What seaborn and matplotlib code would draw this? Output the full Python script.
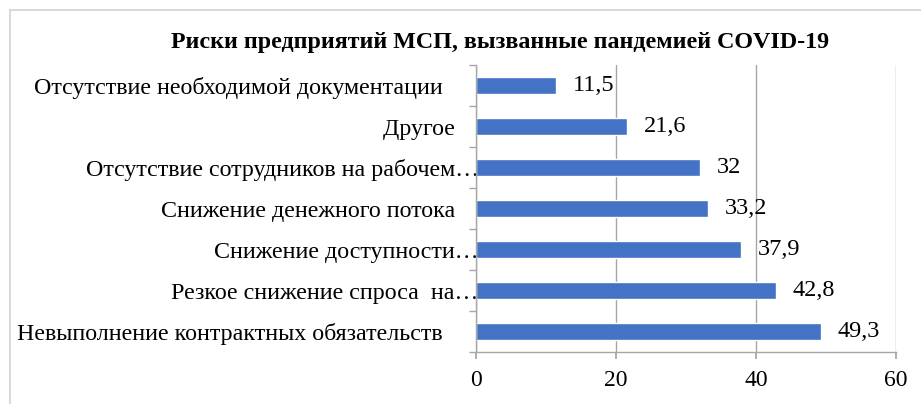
import matplotlib
matplotlib.use("Agg")
import matplotlib.pyplot as plt
import matplotlib.patches as mpatches
import seaborn as sns
import pandas as pd

# chart data (top to bottom as shown); trailing spaces are part of the source labels
categories = [
    "Отсутствие необходимой документации      ",
    "Другое    ",
    "Отсутствие сотрудников на рабочем…",
    "Снижение денежного потока    ",
    "Снижение доступности…",
    "Резкое снижение спроса  на…",
    "Невыполнение контрактных обязательств      ",
]
values = [11.5, 21.6, 32, 33.2, 37.9, 42.8, 49.3]
x_ticks = [0, 20, 40, 60]
title = "Риски предприятий МСП, вызванные пандемией COVID-19"

df = pd.DataFrame({"category": categories, "value": values})

sns.set_theme(style="white")
plt.rcParams["font.family"] = ["Liberation Serif", "DejaVu Serif"]

fig = plt.figure(figsize=(9.21, 4.04), dpi=100)
ax = fig.add_axes([0.5168, 0.1287, 0.4561, 0.7103])

sns.barplot(data=df, x="value", y="category", orient="h", color="#4472C4",
            saturation=1, width=0.4, ax=ax)

ax.set_xlim(0, 60)
ax.set_xticks(x_ticks)
ax.set_xlabel("")
ax.set_ylabel("")
ax.grid(axis="x", color="#A6A6A6", linewidth=1)
ax.set_axisbelow(True)

for s in ["top", "right"]:
    ax.spines[s].set_visible(False)
for s in ["left", "bottom"]:
    ax.spines[s].set_color("#A6A6A6")
    ax.spines[s].set_linewidth(1)

# category boundary ticks on y, outward ticks on x
ax.set_yticks(range(len(categories)))
ax.set_yticklabels(categories, fontsize=17.3, color="#000000")
ax.tick_params(axis="y", length=0, pad=-2)
ax.set_yticks([i - 0.5 for i in range(len(categories) + 1)], minor=True)
ax.tick_params(axis="y", which="minor", length=5, color="#A6A6A6", left=True)
ax.tick_params(axis="x", length=5, color="#A6A6A6", bottom=True,
               labelsize=17, labelcolor="#000000", pad=8)

ax.bar_label(ax.containers[0],
             labels=[f"{v:g}".replace(".", ",") for v in values],
             padding=12, fontsize=17.5, color="#000000")

fig.text(0.543, 0.895, title, ha="center", va="center",
         fontsize=17.3, fontweight="bold", color="#000000")

# chart border (runs off the right and bottom edges)
fig.patches.append(mpatches.Rectangle((0.0108, -0.05), 1.05, 1.026,
                                      transform=fig.transFigure, fill=False,
                                      edgecolor="#D9D9D9", linewidth=1.5))

fig.savefig("out.png", dpi=100)
